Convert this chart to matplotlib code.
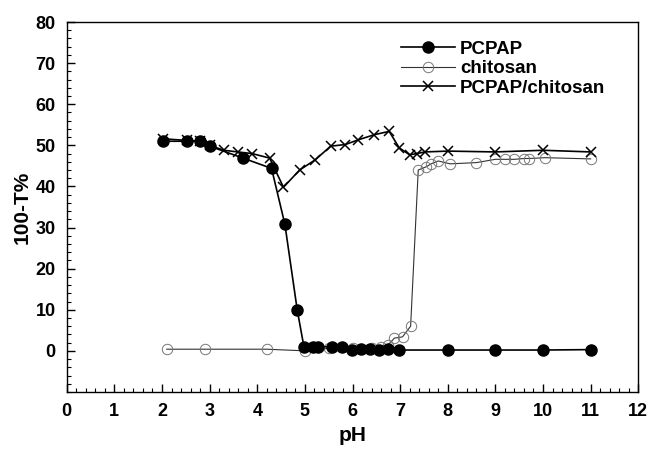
import matplotlib
matplotlib.use("Agg")
import matplotlib.pyplot as plt
from matplotlib.ticker import MultipleLocator

plt.rcParams['font.family'] = ['Liberation Sans', 'DejaVu Sans']
plt.rcParams['font.weight'] = 'bold'

# PCPAP (filled circles)
ph_pcpap = [2.02, 2.52, 2.8, 3.0, 3.7, 4.3, 4.58, 4.84, 4.98, 5.17, 5.27, 5.57,
            5.78, 5.98, 6.17, 6.37, 6.55, 6.74, 6.98, 8.0, 9.0, 10.0, 11.0]
val_pcpap = [51.0, 51.0, 51.0, 49.8, 46.9, 44.4, 30.8, 9.9, 1.0, 1.0, 1.0, 1.0,
             0.9, 0.2, 0.4, 0.4, 0.3, 0.5, 0.2, 0.2, 0.2, 0.2, 0.3]

# chitosan (open circles)
ph_chit = [2.1, 2.9, 4.2, 5.0, 5.5, 6.0, 6.4, 6.6, 6.75, 6.88, 7.05, 7.22,
           7.38, 7.55, 7.65, 7.8, 8.05, 8.6, 9.0, 9.2, 9.4, 9.6, 9.7, 10.05, 11.0]
val_chit = [0.4, 0.4, 0.4, 0.0, 0.6, 0.6, 0.8, 1.0, 1.5, 3.1, 3.4, 6.0,
            44.0, 44.8, 45.5, 46.2, 45.5, 45.8, 46.6, 46.6, 46.6, 46.8, 46.8, 47.0, 46.7]

# PCPAP/chitosan (crosses)
ph_mix = [2.02, 2.52, 2.8, 3.0, 3.3, 3.59, 3.89, 4.26, 4.55, 4.89, 5.22, 5.54,
          5.85, 6.11, 6.46, 6.77, 6.98, 7.2, 7.35, 7.52, 8.0, 9.0, 10.0, 11.0]
val_mix = [51.6, 51.2, 51.0, 50.0, 48.8, 48.4, 48.0, 46.9, 39.8, 44.0, 46.5, 49.8,
           50.2, 51.3, 52.6, 53.4, 49.4, 47.7, 48.0, 48.4, 48.6, 48.4, 48.8, 48.4]

fig = plt.figure(figsize=(6.48, 4.5), dpi=100)
ax = fig.add_axes([0.103, 0.129, 0.882, 0.822])

ax.plot(ph_pcpap, val_pcpap, color='black', lw=1.2, marker='o', ms=8,
        mfc='black', mec='black', label='PCPAP', zorder=3)
ax.plot(ph_chit, val_chit, color='#333333', lw=0.8, marker='o', ms=7.5,
        mfc='none', mec='#777777', mew=0.7, label='chitosan', zorder=2)
ax.plot(ph_mix, val_mix, color='black', lw=1.2, marker='x', ms=7.5,
        mew=1.1, label='PCPAP/chitosan', zorder=4)

ax.set_xlim(0, 12)
ax.set_ylim(-10, 80)
ax.xaxis.set_major_locator(MultipleLocator(1))
ax.xaxis.set_minor_locator(MultipleLocator(0.2))
ax.set_yticks(range(0, 81, 10))
ax.yaxis.set_minor_locator(MultipleLocator(2))
ax.tick_params(which='major', direction='in', length=6, width=1.0, labelsize=13)
ax.tick_params(which='minor', direction='in', length=3, width=0.8)
ax.tick_params(axis='x', pad=8)
ax.tick_params(axis='y', pad=8)
for s in ax.spines.values():
    s.set_linewidth(1.0)

ax.set_xlabel('pH', fontsize=15, fontweight='bold', labelpad=4)
ax.set_ylabel('100-T%', fontsize=15, fontweight='bold', labelpad=3)

leg = ax.legend(loc='upper right', bbox_to_anchor=(0.975, 1.0), frameon=False,
                fontsize=13.5, handlelength=2.9, handletextpad=0.25, labelspacing=0.12,
                borderaxespad=0.6)
for t in leg.get_texts():
    t.set_fontweight('bold')

fig.savefig('out.png', dpi=100)
